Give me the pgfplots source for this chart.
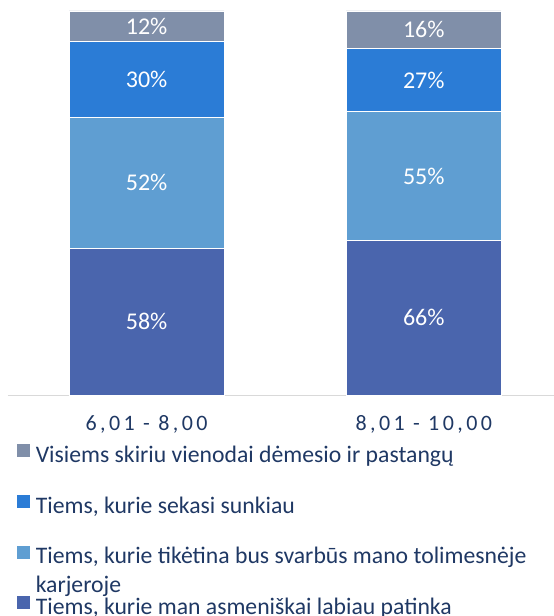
\documentclass[border=0pt]{standalone}
\usepackage{pgfplots}
\pgfplotsset{compat=1.18}
\usepackage{pgfplotstable}
\usepackage{fontspec}
\setmainfont{Carlito}
\definecolor{cA}{RGB}{74,101,173}
\definecolor{cB}{RGB}{95,158,210}
\definecolor{cC}{RGB}{43,124,214}
\definecolor{cD}{RGB}{128,143,169}
\definecolor{navy}{RGB}{31,56,100}
\definecolor{axgray}{RGB}{217,217,217}
\pgfplotstableread{
x a b c d total
0 58 52 30 12 152
1 66 55 27 16 164
}\data
\begin{document}
\begin{tikzpicture}[x=1pt,y=1pt]
\useasboundingbox (0,0) rectangle (554,616);
\begin{axis}[
  at={(8pt,221pt)}, anchor=south west,
  scale only axis, width=546pt, height=384pt,
  xmin=-0.5, xmax=1.47, ymin=0, ymax=100,
  ybar stacked, bar width=155pt,
  axis x line=bottom, axis y line=none,
  x axis line style={-, draw=axgray, line width=1pt},
  xtick={0,1}, xticklabels={{6,01 - 8,00},{8,01 - 10,00}},
  xtick style={draw=none}, major tick length=0pt,
  xticklabel style={anchor=base, yshift=-35.5pt, text=navy,
    font=\fontsize{22}{26}\selectfont\addfontfeatures{LetterSpace=15.5}},
  ytick=\empty,
  clip=false,
  reverse legend,
  legend style={at={(0.01465,-0.1250)}, anchor=north west, draw=none, fill=none,
    inner sep=0pt, row sep=26.4pt, column sep=5pt,
    font=\fontsize{23.7}{28}\selectfont, text=navy,
    nodes={inner sep=0pt, text height=15pt, text depth=5pt}},
  legend cell align=left,
  legend image code/.code={\fill[#1] (0pt,0pt) rectangle (14pt,14pt);},
]
\addplot[fill=cA, draw=white, line width=0.6pt] table[x=x, y expr=\thisrow{a}/\thisrow{total}*100] {\data};
\addplot[fill=cB, draw=white, line width=0.6pt] table[x=x, y expr=\thisrow{b}/\thisrow{total}*100] {\data};
\addplot[fill=cC, draw=white, line width=0.6pt] table[x=x, y expr=\thisrow{c}/\thisrow{total}*100] {\data};
\addplot[fill=cD, draw=white, line width=0.6pt] table[x=x, y expr=\thisrow{d}/\thisrow{total}*100] {\data};
\legend{{Tiems, kurie man asmeniškai labiau patinka},
  {\rlap{\smash{\raisebox{-29pt}{karjeroje}}}Tiems, kurie tikėtina bus svarbūs mano tolimesnėje},
  {Tiems, kurie sekasi sunkiau},
  {Visiems skiriu vienodai dėmesio ir pastangų}}
\end{axis}
\begin{axis}[
  at={(8pt,221pt)}, anchor=south west,
  scale only axis, width=546pt, height=384pt,
  xmin=-0.5, xmax=1.47, ymin=0, ymax=100,
  hide axis, clip=false,
  nodes near coords={\pgfplotspointmeta\%},
  every node near coord/.style={anchor=center, text=white, font=\fontsize{24}{28}\selectfont},
  point meta=explicit symbolic,
]
\addplot[draw=none, mark=none] table[x=x, y expr={(\thisrow{a}/2)/\thisrow{total}*100}, meta=a] {\data};
\addplot[draw=none, mark=none] table[x=x, y expr={(\thisrow{a}+\thisrow{b}/2)/\thisrow{total}*100}, meta=b] {\data};
\addplot[draw=none, mark=none] table[x=x, y expr={(\thisrow{a}+\thisrow{b}+\thisrow{c}/2)/\thisrow{total}*100}, meta=c] {\data};
\addplot[draw=none, mark=none] table[x=x, y expr={(\thisrow{a}+\thisrow{b}+\thisrow{c}+\thisrow{d}/2)/\thisrow{total}*100}, meta=d] {\data};
\end{axis}
\end{tikzpicture}
\end{document}
